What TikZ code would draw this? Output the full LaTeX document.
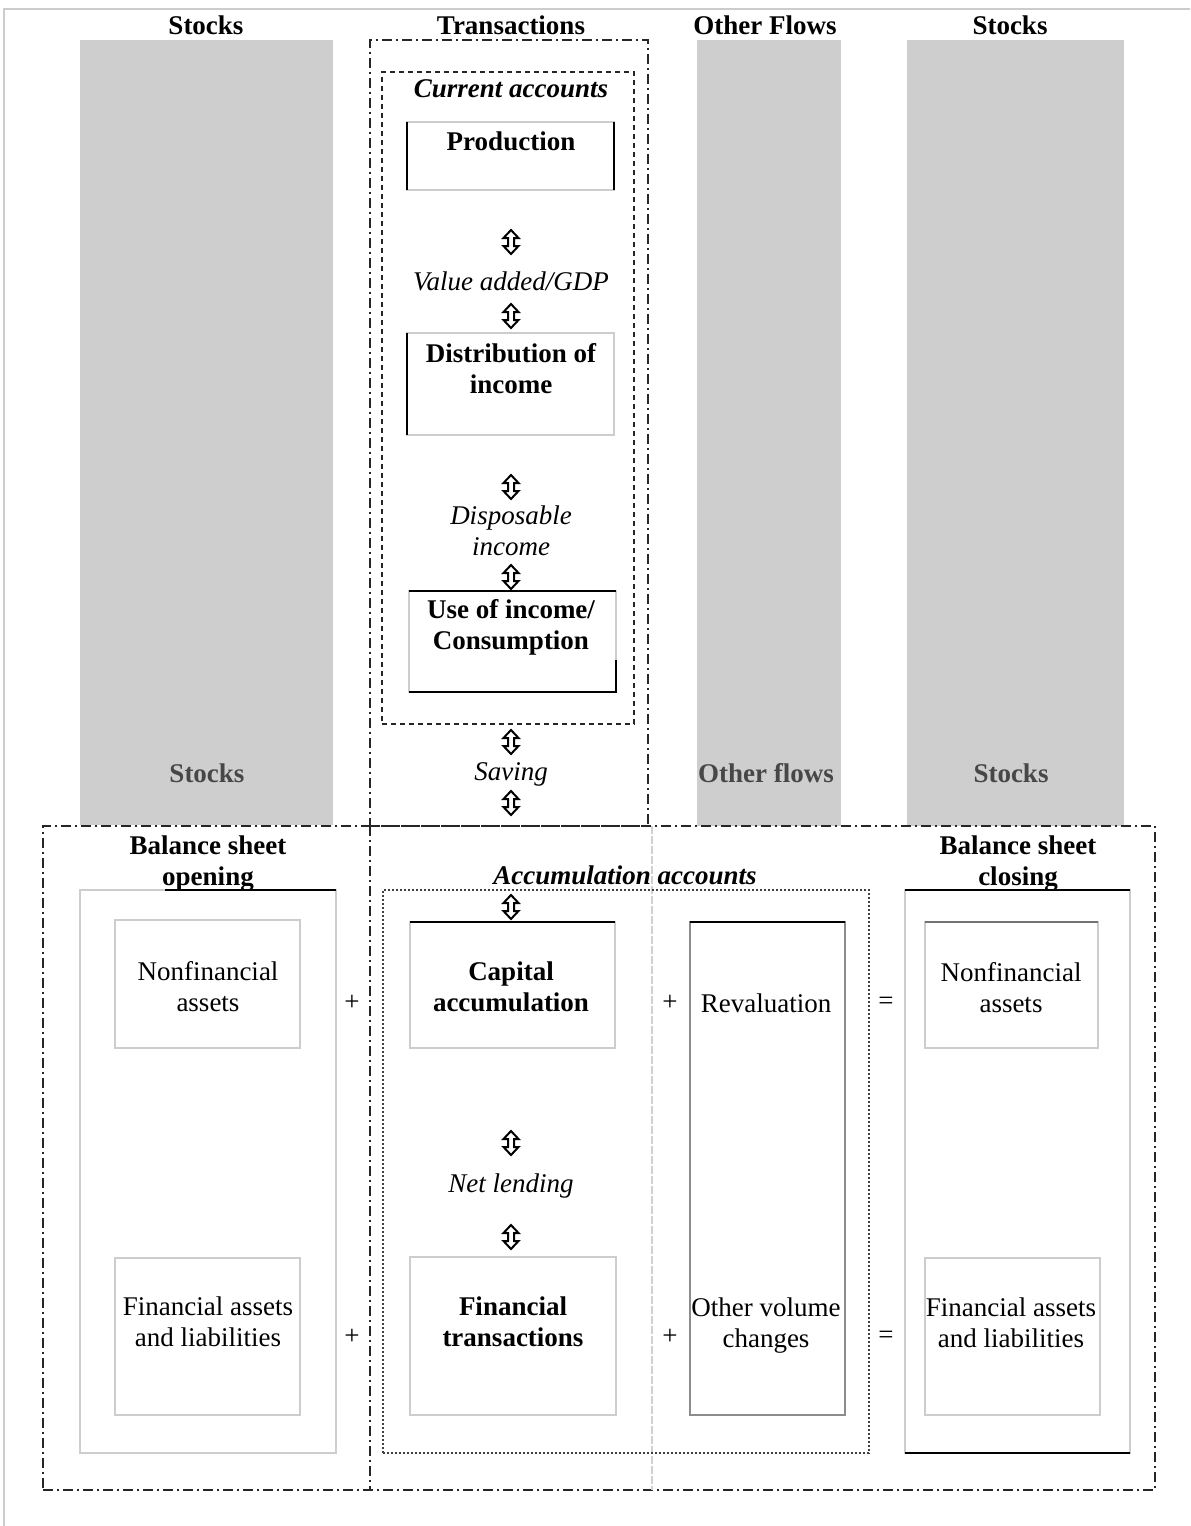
\documentclass[tikz,border=0pt]{standalone}
\usepackage{fontspec}
\setmainfont{Liberation Serif}
\newcommand\fsz{\fontsize{13.5}{15.5}\selectfont}
\definecolor{colgray}{RGB}{206,206,206}
\definecolor{lightline}{RGB}{205,205,205}
\begin{document}
\begin{tikzpicture}[x=0.5pt,y=-0.5pt,
  every node/.style={inner sep=0pt,outer sep=0pt},
  hdr/.style={font=\fsz\bfseries,align=center},
  graylbl/.style={font=\fsz\bfseries,text=black!72},
  txt/.style={font=\fsz,align=center},
  itx/.style={font=\fsz\itshape,align=center},
  bitx/.style={font=\fsz\bfseries\itshape,align=center},
  col/.style={fill=colgray,draw=none,anchor=north west},
  lbox/.style={draw=lightline,line width=0.9pt,anchor=north west},
  dark/.style={draw=black,line width=1pt},
  dashdot/.style={draw=black!85,line width=0.8pt,dash pattern=on 5pt off 2pt on 1pt off 2pt},
  dashbox/.style={draw=black!85,line width=0.8pt,dash pattern=on 2.5pt off 2pt,anchor=north west},
  dotbox/.style={draw=black!75,line width=0.8pt,dash pattern=on 1.2pt off 0.8pt,anchor=north west},
  udarr/.pic={\draw[line width=1pt,line join=miter,fill=white]
     (0,-12)--(7.5,-4)--(3,-4)--(3,4)--(7.5,4)--(0,12)--(-7.5,4)--(-3,4)--(-3,-4)--(-7.5,-4)--cycle;}
]
\useasboundingbox (0,0) rectangle (1190,1526);
% page frame
\draw[black!20,line width=1pt] (4,1526) -- (4,9) -- (1190,9);

% shaded columns
\node[col,minimum width=126.5pt,minimum height=392.5pt] (c1) at (80,40) {};
\node[col,minimum width=72pt,minimum height=393pt] (c3) at (697,40) {};
\node[col,minimum width=108.5pt,minimum height=393pt] (c4) at (907,40) {};

% headers
\node[hdr] (h1) at (206,25) {Stocks};
\node[hdr] (h2) at (511,25) {Transactions};
\node[hdr] (h3) at (765,25) {Other Flows};
\node[hdr] (h4) at (1010,25) {Stocks};

% transactions column and current accounts
\node[dashdot,anchor=north west,minimum width=139pt,minimum height=393pt] (trans) at (370,40) {};
\node[dashbox,minimum width=126pt,minimum height=326pt] (curacc) at (382,72) {};
\node[bitx] (curt) at (511,89) {Current accounts};

% production
\node[lbox,minimum width=103.5pt,minimum height=34pt] (prod) at (407,122) {};
\draw[dark] (prod.north west) -- (prod.south west);
\draw[dark] (prod.north east) -- (prod.south east);
\node[hdr] (prodt) at (511,141) {Production};

\pic at (511,242) {udarr};
\node[itx] (va) at (511,281) {Value added/GDP};
\pic at (511,316) {udarr};

% distribution
\node[lbox,minimum width=103.5pt,minimum height=51pt] (dist) at (407,333) {};
\draw[dark] (dist.north west) -- (dist.south west);
\node[hdr] (distt) at (511,369) {Distribution of\\income};

\pic at (511,487) {udarr};
\node[itx] (disp) at (511,531) {Dis\-posable\\income};
\pic at (511,577) {udarr};

% use of income
\node[lbox,minimum width=103.5pt,minimum height=50.5pt] (use) at (409,591) {};
\draw[dark] (use.north west) -- (use.north east);
\draw[dark] (use.south west) -- (use.south east) -- ++(0,-32);
\node[hdr] (uset) at (511,627) {Use of income/\\Consumption};

\pic at (511,742) {udarr};
\pic at (511,803) {udarr};

% mid labels
\node[graylbl] (m1) at (207,773) {Stocks};
\node[itx] (sav) at (511,774) {Saving};
\node[graylbl] (m3) at (766,773) {Other flows};
\node[graylbl] (m4) at (1011,773) {Stocks};

% big accumulation frame
\node[dashdot,anchor=north west,minimum width=556pt,minimum height=332pt] (big) at (43,826) {};
\draw[dashdot] (trans.south west) -- (trans.south west |- big.south);
\draw[draw=black!18,line width=0.7pt,dash pattern=on 4pt off 1pt] ([xshift=2pt]trans.south east) -- ([xshift=2pt]trans.south east |- big.south);

% opening balance sheet
\node[hdr] (opt) at (208,864) {Balance sheet\\opening};
\node[lbox,minimum width=128pt,minimum height=281.5pt] (open) at (80,890) {};
\draw[dark] (165,890) -- (open.north east);
\node[lbox,minimum width=92.5pt,minimum height=64pt] (nf1) at (115,920) {};
\node[txt] (nf1t) at (208,987) {Nonfinancial\\assets};
\node[lbox,minimum width=92.5pt,minimum height=78.5pt] (fa1) at (115,1258) {};
\node[txt] (fa1t) at (208,1322) {Financial assets\\and liabilities};
\node[txt] (p1) at (352,1003) {+};
\node[txt] (p2) at (352,1337) {+};

% accumulation accounts
\node[bitx] (acct) at (625,875) {Accumulation accounts};
\node[dotbox,minimum width=243pt,minimum height=281.5pt] (accum) at (383,890) {};
\pic at (511,907) {udarr};
\node[lbox,minimum width=102.5pt,minimum height=63pt] (cap) at (410,922) {};
\draw[dark] (cap.north west) -- (cap.north east);
\node[hdr] (capt) at (511,987) {Capital\\accumulation};
\pic at (511,1143) {udarr};
\node[itx] (nl) at (511,1186) {Net lending};
\pic at (511,1237) {udarr};
\node[lbox,minimum width=103pt,minimum height=79pt] (fintr) at (410,1257) {};
\node[hdr] (fintrt) at (513,1322) {Financial\\transactions};

\node[txt] (p3) at (670,1003) {+};
\node[txt] (p4) at (670,1337) {+};

% other flows box
\node[lbox,draw=black!45,minimum width=77.5pt,minimum height=246.5pt] (reval) at (690,922) {};
\draw[dark] (reval.north west) -- (reval.north east);
\node[txt] (revt) at (766,1003) {Revaluation};
\node[txt] (ovt) at (766,1326) {Other volume\\changes};

\node[txt] (e1) at (886,1003) {=};
\node[txt] (e2) at (886,1337) {=};

% closing balance sheet
\node[hdr] (clt) at (1018,864) {Balance sheet\\closing};
\node[lbox,minimum width=112.5pt,minimum height=281.5pt] (close) at (905,890) {};
\draw[dark] (close.north west) -- (close.north east);
\draw[dark] (close.south west) -- (close.south east);
\node[lbox,minimum width=86.5pt,minimum height=63pt] (nf2) at (925,922) {};
\draw[draw=black!55,line width=0.8pt] (nf2.north west) -- (nf2.north east);
\node[txt] (nf2t) at (1011,988) {Nonfinancial\\assets};
\node[lbox,minimum width=87.5pt,minimum height=78.5pt] (fa2) at (925,1258) {};
\node[txt] (fa2t) at (1011,1323) {Financial assets\\and liabilities};
\end{tikzpicture}
\end{document}
